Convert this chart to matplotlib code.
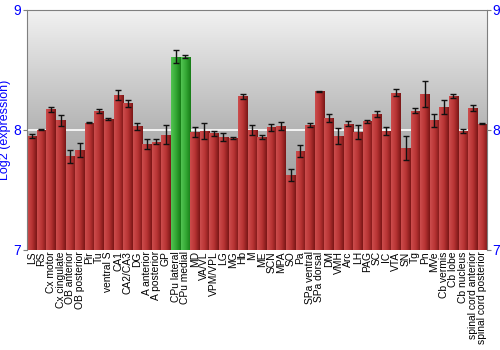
import numpy as np
import matplotlib
matplotlib.use('Agg')
import matplotlib.pyplot as plt
from matplotlib.colors import LinearSegmentedColormap

plt.rcParams['font.family'] = ['Liberation Sans', 'DejaVu Sans']

regions = ['LS', 'RS', 'Cx motor', 'Cx cingulate', 'OB anterior', 'OB posterior', 'Pir', 'Tu',
           'ventral S', 'CA1', 'CA2/CA3', 'DG', 'A anterior', 'A posterior', 'GP',
           'CPu lateral', 'CPu medial', 'MD', 'VA/VL', 'VPM/VPL', 'LG', 'MG', 'Hb', 'M', 'ME',
           'SCN', 'MPA', 'SO', 'Pa', 'SPa ventral', 'SPa dorsal', 'DM', 'VMH', 'Arc', 'LH',
           'PAG', 'SC', 'IC', 'VTA', 'SN', 'Tg', 'Pn', 'MVe', 'Cb vermis', 'Cb lobe',
           'Cb nucleus', 'spinal cord anterior', 'spinal cord posterior']
expression = [7.95, 8.00, 8.17, 8.08, 7.78, 7.83, 8.06, 8.16,
              8.09, 8.29, 8.22, 8.03, 7.88, 7.90, 7.96,
              8.61, 8.61, 7.98, 7.99, 7.97, 7.94, 7.93, 8.28, 8.00, 7.94,
              8.02, 8.03, 7.62, 7.82, 8.04, 8.32, 8.10, 7.95, 8.05, 7.98,
              8.07, 8.13, 7.99, 8.31, 7.85, 8.16, 8.30, 8.08, 8.19, 8.28,
              7.99, 8.18, 8.05]
errors = [0.015, 0.005, 0.02, 0.045, 0.055, 0.06, 0.003, 0.017,
          0.005, 0.04, 0.028, 0.028, 0.04, 0.02, 0.08,
          0.055, 0.01, 0.04, 0.07, 0.02, 0.03, 0.01, 0.02, 0.04, 0.015,
          0.03, 0.035, 0.05, 0.05, 0.015, 0.005, 0.035, 0.065, 0.02, 0.06,
          0.01, 0.025, 0.03, 0.03, 0.1, 0.02, 0.11, 0.055, 0.055, 0.015,
          0.015, 0.025, 0.005]
highlight = ['CPu lateral', 'CPu medial']

red_cmap = LinearSegmentedColormap.from_list('red', ['#cc4d4d', '#b83434', '#7a1616'])
green_cmap = LinearSegmentedColormap.from_list('green', ['#52c452', '#34a834', '#167a16'])
bg_cmap = LinearSegmentedColormap.from_list('bg', ['#8e8e8e', '#b4b4b4', '#f2f2f2'])

fig = plt.figure(figsize=(5, 3.5), dpi=100)
ax = fig.add_axes([0.054, 0.286, 0.92, 0.686])

ymin, ymax = 7, 9
x = np.arange(len(regions))
ax.set_xlim(-0.5, len(regions) - 0.5)
ax.set_ylim(ymin, ymax)

# background gradient
grad = np.linspace(0, 1, 256).reshape(-1, 1)
ax.imshow(grad, cmap=bg_cmap, aspect='auto', origin='lower',
          extent=[-0.5, len(regions) - 0.5, ymin, ymax], zorder=0)
ax.axhline(8, color='white', lw=1.2, zorder=1)

hgrad = np.linspace(0, 1, 64).reshape(1, -1)
bars = ax.bar(x, np.array(expression) - ymin, bottom=ymin, width=0.94,
              color='none', edgecolor='none', zorder=2)
for name, b in zip(regions, bars):
    cm = green_cmap if name in highlight else red_cmap
    im = ax.imshow(hgrad, cmap=cm, aspect='auto',
                   extent=[b.get_x(), b.get_x() + b.get_width(), ymin, ymin + b.get_height()],
                   zorder=2)
    im.set_clip_path(b)

ax.errorbar(x, expression, yerr=errors, fmt='none', ecolor='#111111', elinewidth=1,
            capsize=2, capthick=1, zorder=3)

ax.set_xticks(x)
ax.set_xticklabels(regions, rotation=90, fontsize=7.4)
ax.tick_params(axis='x', length=0, pad=1)
ax.set_yticks([7, 8, 9])
ax.tick_params(axis='y', colors='#7f7f7f', labelcolor='blue', labelsize=10,
               length=3, right=True, labelright=True, pad=1)
ax.set_ylabel('Log2 (expression)', color='blue', fontsize=9, labelpad=2)

for s in ax.spines.values():
    s.set_color('#7f7f7f')
ax.spines['bottom'].set_visible(False)

fig.savefig('out.png', dpi=100)
